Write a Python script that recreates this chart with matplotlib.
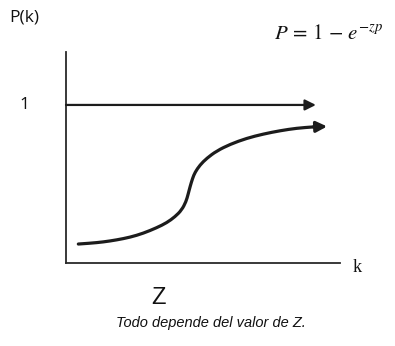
import matplotlib.pyplot as plt
from matplotlib.path import Path
from matplotlib.patches import PathPatch

plt.rcParams['mathtext.fontset'] = 'stix'

# curva P(k), leida punto a punto
curve_k = [0.045, 0.088, 0.136, 0.185, 0.234, 0.282, 0.331, 0.368, 0.398,
           0.422, 0.438, 0.446, 0.453, 0.462, 0.471, 0.489, 0.514, 0.550,
           0.599, 0.659, 0.720, 0.781, 0.842, 0.903]
curve_p = [0.120, 0.125, 0.133, 0.146, 0.163, 0.188, 0.223, 0.255, 0.293,
           0.335, 0.388, 0.437, 0.484, 0.536, 0.574, 0.620, 0.663, 0.709,
           0.751, 0.789, 0.816, 0.837, 0.853, 0.861]
curve_tip = (0.953, 0.864)

# linea horizontal en P = 1
level_p = 1.0
level_end = 0.912

ink = '#1c1c1c'


def smooth_path(xs, ys):
    # cuadraticas por los puntos medios, para que no se vean quiebres
    pts = list(zip(xs, ys))
    verts = [pts[0]]
    codes = [Path.MOVETO]
    for i in range(1, len(pts) - 1):
        mid = ((pts[i][0] + pts[i + 1][0]) / 2, (pts[i][1] + pts[i + 1][1]) / 2)
        verts += [pts[i], mid]
        codes += [Path.CURVE3, Path.CURVE3]
    verts.append(pts[-1])
    codes.append(Path.LINETO)
    return Path(verts, codes)


fig = plt.figure(figsize=(3.95, 3.46), dpi=100)
ax = fig.add_axes([66 / 395, 83 / 346, 274 / 395, 211 / 346])
ax.set_xlim(0, 1)
ax.set_ylim(0, 1.335)

for side in ['top', 'right']:
    ax.spines[side].set_visible(False)
for side in ['left', 'bottom']:
    ax.spines[side].set_linewidth(1.3)
    ax.spines[side].set_color('#2a2a2a')
ax.set_xticks([])
ax.set_yticks([])

# curva con flecha al final
ax.add_patch(PathPatch(smooth_path(curve_k, curve_p), fill=False,
                       edgecolor=ink, lw=2.3, capstyle='round'))
ax.annotate('', xy=curve_tip, xytext=(curve_k[-1], curve_p[-1]),
            arrowprops=dict(arrowstyle='-|>', mutation_scale=16,
                            color=ink, lw=2.3, shrinkA=0, shrinkB=0))

# flecha horizontal
ax.annotate('', xy=(level_end, level_p), xytext=(0, level_p),
            arrowprops=dict(arrowstyle='-|>', mutation_scale=16,
                            color=ink, lw=1.6, shrinkA=0, shrinkB=0))

# textos
fig.text(9 / 395, 1 - 18 / 346, 'P(k)', family='Open Sans', fontsize=12.5,
         va='center', ha='left', color='#111')
fig.text(24 / 395, 1 - 105 / 346, '1', family='Open Sans', fontsize=12.5,
         va='center', ha='center', color='#111')
fig.text(274 / 395, 1 - 33 / 346, r'$P\,=\,1\,-\,e^{-zp}$', fontsize=15,
         va='center', ha='left', color='#111')
fig.text(357 / 395, 1 - 268 / 346, 'k', family='Liberation Serif',
         fontsize=13, va='center', ha='center', color='#111')
fig.text(158 / 395, 1 - 298 / 346, 'Z', family='Liberation Sans',
         fontsize=17, va='center', ha='center', color='#111')
fig.text(211 / 395, 1 - 323 / 346, 'Todo depende del valor de Z.',
         family='Liberation Sans', style='italic', fontsize=10.5,
         va='center', ha='center', color='#111')

fig.savefig('out.png', dpi=100)
